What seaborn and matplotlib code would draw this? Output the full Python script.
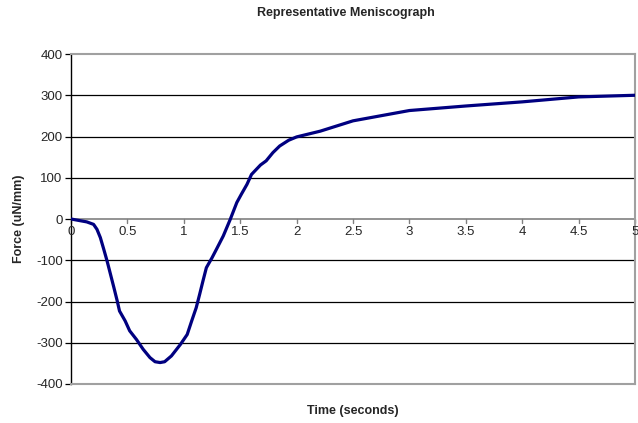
import matplotlib
matplotlib.use('Agg')
import matplotlib.pyplot as plt
import seaborn as sns
import pandas as pd

# data
time_s = [0.0, 0.08, 0.14, 0.20, 0.23, 0.26, 0.29, 0.32, 0.35, 0.38, 0.41,
          0.43, 0.48, 0.52, 0.58, 0.64, 0.70, 0.745, 0.79, 0.83, 0.89, 0.97,
          1.03, 1.07, 1.11, 1.14, 1.17, 1.20, 1.25, 1.29, 1.35, 1.41, 1.47,
          1.51, 1.56, 1.60, 1.68, 1.73, 1.79, 1.85, 1.93, 2.0, 2.21, 2.5,
          3.0, 3.5, 4.0, 4.5, 5.0]
force = [0, -4, -7, -13, -25, -45, -73, -102, -134, -166, -199,
         -223, -247, -271, -292, -316, -336, -346, -348, -346, -332, -304,
         -280, -247, -215, -183, -150, -118, -94, -73, -41, -2, 40,
         60, 84, 108, 131, 141, 161, 177, 191, 199, 213, 238,
         263, 274, 284, 296, 300]

xticks = [0, 0.5, 1, 1.5, 2, 2.5, 3, 3.5, 4, 4.5, 5]
xtick_labels = ['0', '0.5', '1', '1.5', '2', '2.5', '3', '3.5', '4', '4.5', '5']
yticks = [-400, -300, -200, -100, 0, 100, 200, 300, 400]

df = pd.DataFrame({'time': time_s, 'force': force})

sns.set_style('white')
plt.rcParams['font.family'] = ['Liberation Sans', 'DejaVu Sans']

fig = plt.figure(figsize=(6.38, 4.23), dpi=100)
ax = fig.add_axes([0.1113, 0.0922, 0.8840, 0.7801])

# gridlines
for y in yticks:
    if y in (0, 400, -400):
        continue
    ax.axhline(y, color='black', lw=0.9, zorder=1)
ax.axhline(0, color='#808080', lw=1.2, zorder=1)

sns.lineplot(data=df, x='time', y='force', ax=ax, color='#000080', lw=2.3,
             zorder=3)
ax.lines[-1].set_solid_joinstyle('round')

ax.set_xlim(0, 5)
ax.set_ylim(-400, 400)
ax.set_yticks(yticks)
ax.set_yticklabels([str(v) for v in yticks], fontsize=9.5)
ax.set_xticks([])

# x tick marks and labels sit on the zero line
for x, lab in zip(xticks, xtick_labels):
    ax.plot([x, x], [0, -10], color='#808080', lw=1, clip_on=False, zorder=2)
    ax.text(x, -31, lab, ha='center', va='center', fontsize=9.5)

ax.tick_params(axis='y', length=4, width=0.9, color='black', direction='out',
               left=True, pad=2)

for side in ('top', 'right', 'bottom'):
    ax.spines[side].set_color('#a0a0a0')
    ax.spines[side].set_linewidth(1.5)
ax.spines['left'].set_color('black')
ax.spines['left'].set_linewidth(1)

ax.set_xlabel('Time (seconds)', fontsize=9, fontweight='bold', labelpad=15)
ax.set_ylabel('Force (uN/mm)', fontsize=9, fontweight='bold', labelpad=8)
fig.text(0.542, 0.97, 'Representative Meniscograph', ha='center', va='center',
         fontsize=9, fontweight='bold')

fig.savefig('out.png', dpi=100)
